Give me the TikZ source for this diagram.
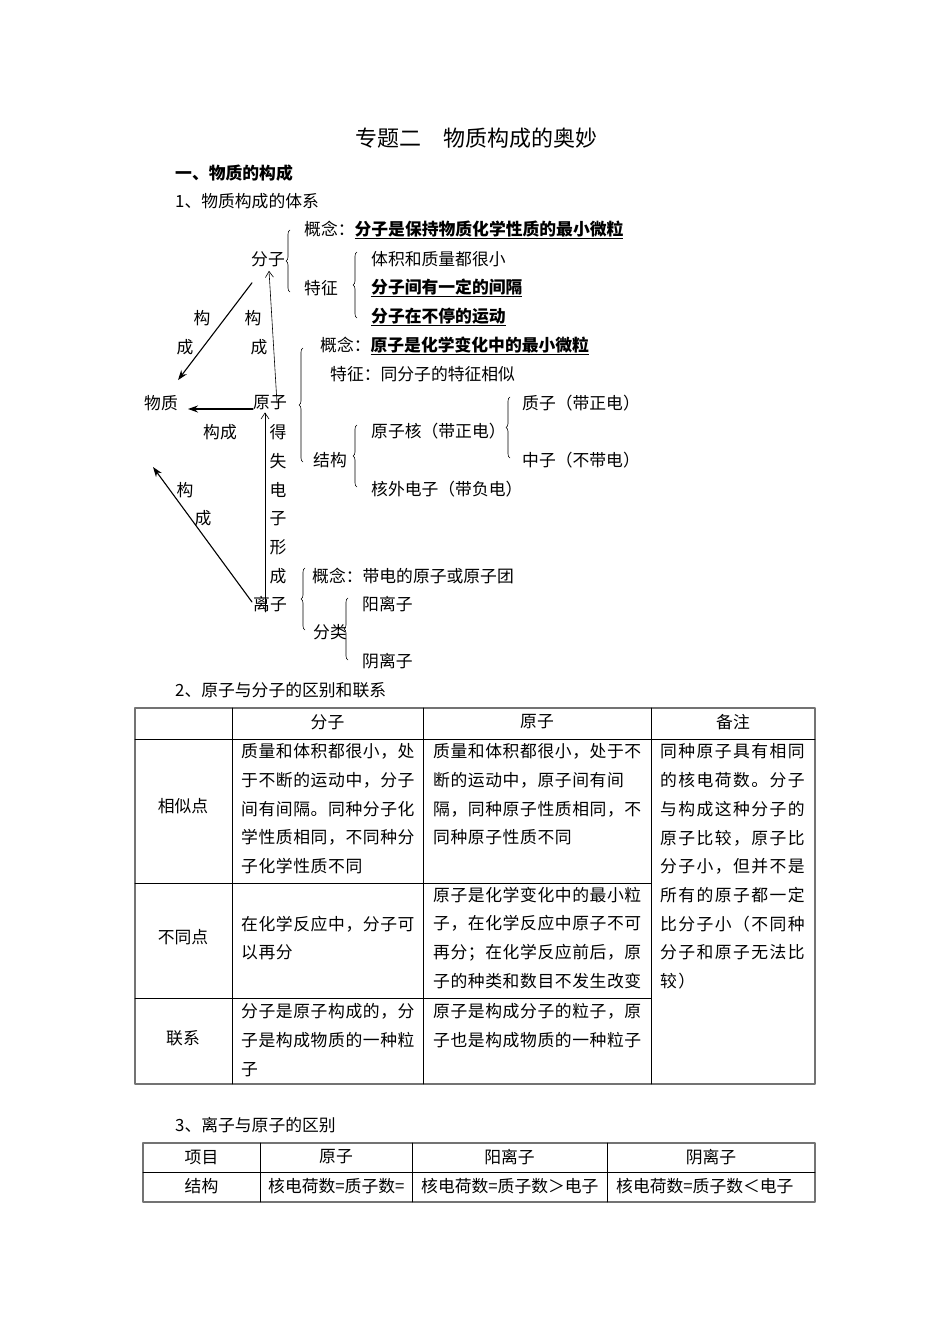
\documentclass[tikz,border=0pt]{standalone}
\usepackage{fontspec}
\setmainfont{Noto Sans CJK SC}
\newfontfamily\cellfont[LetterSpace=3.5]{Noto Sans CJK SC}
\newfontfamily\notefont[LetterSpace=8.5]{Noto Sans CJK SC}
\usetikzlibrary{arrows.meta,decorations.pathreplacing}

\begin{document}
\begin{tikzpicture}[x=1pt, y=-1pt, line cap=round, line join=round]
\tikzset{
  txt/.style={anchor=west, inner sep=0pt, font=\fontsize{16.8}{28.7}\selectfont},
  ctr/.style={txt, anchor=center},
  cell/.style={txt, anchor=north west, align=left, font=\cellfont\fontsize{16.8}{28.7}\selectfont},
  note/.style={cell, font=\notefont\fontsize{16.8}{28.7}\selectfont},
  key/.style={font=\fontsize{16.8}{28.7}\selectfont\bfseries},
  brc/.style={decorate, decoration={brace, amplitude=4pt}, line width=0.6pt},
  fill arr/.style={-{Stealth[length=10pt, width=7pt]}, line width=1.1pt},
  open arr/.style={-{Straight Barb[length=6pt, width=8pt]}, line width=0.6pt},
  grid/.style={line width=0.8pt},
  frame/.style={line width=1.3pt, draw=black!55},
}
\fill[white] (0,0) rectangle (950,1344);
\useasboundingbox (0,0) rectangle (950,1344);

% headings
\node[ctr, font=\fontsize{22}{26}\selectfont] (title) at (476,138) {专题二　物质构成的奥妙};
\node[txt, key] (sec1) at (175,173) {一、物质的构成};
\node[txt] (sub1) at (175,201) {1、物质构成的体系};

% the four particles
\node[ctr] (fenzi) at (268,259) {分子};
\node[ctr] (wuzhi) at (161,403) {物质};
\node[ctr] (yuanzi) at (270,403) {原子};
\node[ctr] (lizi) at (270,604) {离子};
\coordinate (wz-low) at (153,467);

\draw[fill arr] ([shift={(1,16)}]fenzi.south west) -- ([shift={(0,-15)}]wuzhi.north east);
\node[ctr] (g1) at (202,318) {构};
\node[ctr] (c1) at (185,347) {成};
\draw[open arr] ([xshift=7pt]yuanzi.center) -- ([shift={(1,4)}]fenzi.south);
\node[ctr] (g2) at (253,318) {构};
\node[ctr] (c2) at (259,347) {成};
\draw[fill arr, shorten >=10pt] ([shift={(0,6)}]yuanzi.west) -- ([shift={(0,6)}]wuzhi.east);
\node[ctr] (g3) at (220,432) {构成};
\draw[open arr] ([shift={(-5,8)}]lizi.center) -- ([shift={(-5,2)}]yuanzi.south);
\node[txt, anchor=north, align=center] (dsdz) at (278,424.6) {得\\失\\电\\子\\形\\成};
\draw[fill arr] ([shift={(-1,-2)}]lizi.west) -- (wz-low);
\node[ctr] (g4) at (185,490) {构};
\node[ctr] (c4) at (203,518) {成};

% molecule
\draw[brc] (290,292) -- (290,230);
\node[txt] (fz-gn) at (304,230) {概念：\underline{\textbf{分子是保持物质化学性质的最小微粒}}};
\node[txt] (fz-tz) at (304,288) {特征};
\draw[brc] (357,318) -- (357,252);
\node[txt] (tz1) at (371,259) {体积和质量都很小};
\node[txt] (tz2) at (371,288) {\underline{\textbf{分子间有一定的间隔}}};
\node[txt] (tz3) at (371,317) {\underline{\textbf{分子在不停的运动}}};

% atom
\draw[brc] (303,462) -- (303,348);
\node[txt] (yz-gn) at (320,346) {概念：\underline{\textbf{原子是化学变化中的最小微粒}}};
\node[txt] (yz-tz) at (330,374) {特征：同分子的特征相似};
\node[txt] (yz-jg) at (313,460) {结构};
\draw[brc] (357,487) -- (357,425);
\node[txt] (hz) at (371,431) {原子核（带正电）};
\node[txt] (hwdz) at (371,489) {核外电子（带负电）};
\draw[brc] (510,458) -- (510,397);
\node[txt] (zz) at (522,403) {质子（带正电）};
\node[txt] (zhz) at (522,460) {中子（不带电）};

% ion
\draw[brc] (305,630) -- (305,568);
\node[txt] (lz-gn) at (312,576) {概念：带电的原子或原子团};
\node[txt] (lz-fl) at (313,632) {分类};
\draw[brc] (348,660) -- (348,598);
\node[txt] (ylz) at (362,604) {阳离子};
\node[txt] (yinlz) at (362,661) {阴离子};

% table: molecule vs atom
\node[txt] (sub2) at (175,690) {2、原子与分子的区别和联系};
\draw[frame] (135,708) rectangle (815,1084);
\draw[grid] (232,708) -- (232,1084);
\draw[grid] (423,708) -- (423,1084);
\draw[grid] (651,708) -- (651,1084);
\draw[grid] (135,739) -- (815,739);
\draw[grid] (135,883) -- (651,883);
\draw[grid] (135,998) -- (651,998);

\node[ctr] (h-fz) at (327.5,722) {分子};
\node[ctr] (h-yz) at (537,722) {原子};
\node[ctr] (h-bz) at (733,722) {备注};
\node[ctr] (r-xs) at (183,806) {相似点};
\node[ctr] (r-bt) at (183,937) {不同点};
\node[ctr] (r-lx) at (183,1038) {联系};

\node[cell] (xs-fz) at (241,743.6) {质量和体积都很小，处\\于不断的运动中，分子\\间有间隔。同种分子化\\学性质相同，不同种分\\子化学性质不同};
\node[cell] (xs-yz) at (433,743.6) {质量和体积都很小，处于不\\断的运动中，原子间有间\\隔，同种原子性质相同，不\\同种原子性质不同};
\node[note] (bz) at (660,743.6) {同种原子具有相同\\的核电荷数。分子\\与构成这种分子的\\原子比较，原子比\\分子小，但并不是\\所有的原子都一定\\比分子小（不同种\\分子和原子无法比\\较）};
\node[cell] (bt-fz) at (241,915.6) {在化学反应中，分子可\\以再分};
\node[cell] (bt-yz) at (433,886.6) {原子是化学变化中的最小粒\\子，在化学反应中原子不可\\再分；在化学反应前后，原\\子的种类和数目不发生改变};
\node[cell] (lx-fz) at (241,1003.6) {分子是原子构成的，分\\子是构成物质的一种粒\\子};
\node[cell] (lx-yz) at (433,1003.6) {原子是构成分子的粒子，原\\子也是构成物质的一种粒子};

% table: ion vs atom
\node[txt] (sub3) at (175,1125) {3、离子与原子的区别};
\draw[frame] (143,1143) rectangle (815,1202);
\draw[grid] (260,1143) -- (260,1202);
\draw[grid] (412,1143) -- (412,1202);
\draw[grid] (607,1143) -- (607,1202);
\draw[grid] (143,1172) -- (815,1172);
\node[ctr] (h-xm) at (201.5,1157) {项目};
\node[ctr] (h-atom) at (336,1157) {原子};
\node[ctr] (h-ylz) at (509.5,1157) {阳离子};
\node[ctr] (h-yinlz) at (711,1157) {阴离子};
\node[ctr] (r-jg) at (201.5,1186) {结构};
\node[txt] (jg-atom) at (268,1186) {核电荷数=质子数=};
\node[txt] (jg-ylz) at (421,1186) {核电荷数=质子数＞电子};
\node[txt] (jg-yinlz) at (616,1186) {核电荷数=质子数＜电子};
\end{tikzpicture}
\end{document}
